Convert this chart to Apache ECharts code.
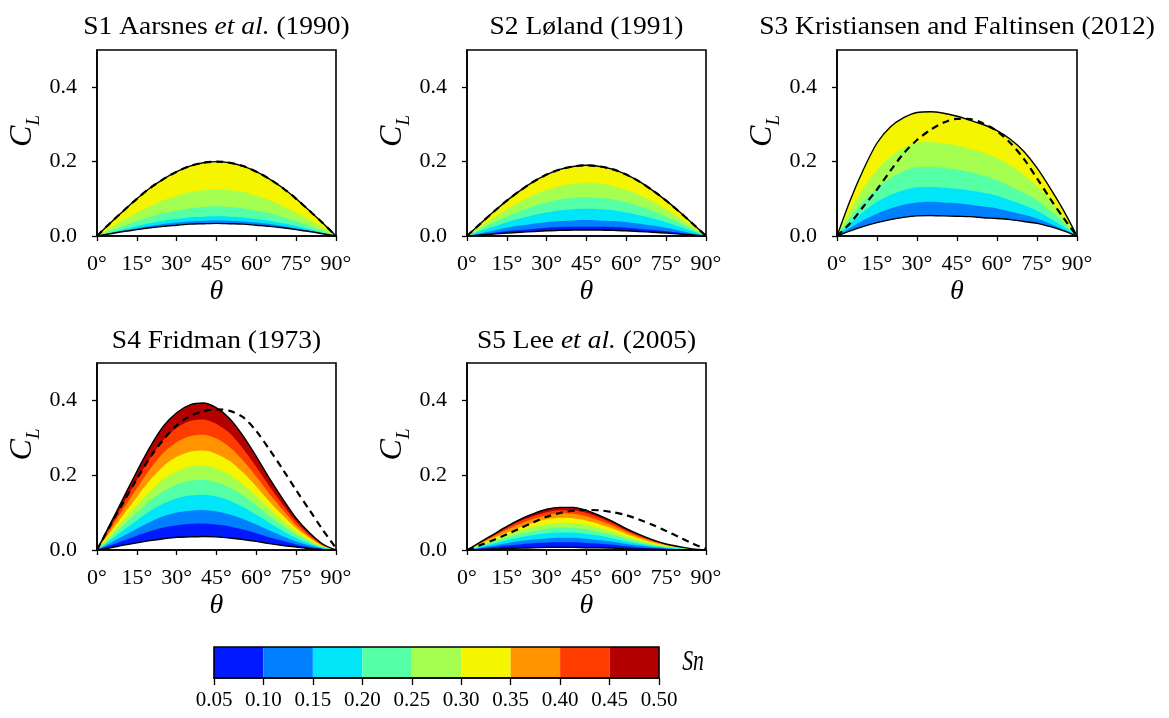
<!DOCTYPE html>
<html>
<head>
<meta charset="utf-8">
<script src="https://cdn.jsdelivr.net/npm/echarts@6/dist/echarts.min.js"></script>
<style>
  html, body { margin: 0; padding: 0; background: #fff; }
  #chart { width: 1169px; height: 718px; }
</style>
</head>
<body>
<div id="chart"></div>
<script>
const FONT = "'Liberation Serif', 'Times New Roman', serif";

// Incidence angle grid (deg) shared by every curve
const theta = [0, 5, 10, 15, 20, 25, 30, 35, 40, 45, 50, 55, 60, 65, 70, 75, 80, 85, 90];
const thetaTicks = [0, 15, 30, 45, 60, 75, 90];
const clTicks = [0, 0.2, 0.4];

// Sn colour classes: 0.05-wide bins from 0.05 to 0.50
const snEdges = [0.05, 0.10, 0.15, 0.20, 0.25, 0.30, 0.35, 0.40, 0.45, 0.50];
const snColors = ['#0019ff', '#0080ff', '#00e5f8', '#55ffa5', '#a5ff50',
                  '#f5f500', '#ff9400', '#ff3c00', '#b30000'];

// S1 Aarsnes et al. (1990): lower Sn bound, upper edge of each Sn band, reference (dashed)
const s1Low = [0, 0.006, 0.012, 0.017, 0.022, 0.026, 0.029, 0.032, 0.033, 0.034, 0.033, 0.032, 0.029, 0.026, 0.022, 0.017, 0.012, 0.006, 0];
const s1Levels = [0.15, 0.20, 0.25, 0.30, 0.35];
const s1Edges = [
  [0, 0.007, 0.014, 0.021, 0.027, 0.032, 0.036, 0.039, 0.041, 0.042, 0.041, 0.039, 0.036, 0.032, 0.027, 0.021, 0.014, 0.007, 0],
  [0, 0.009, 0.018, 0.027, 0.034, 0.041, 0.046, 0.050, 0.052, 0.053, 0.052, 0.050, 0.046, 0.041, 0.034, 0.027, 0.018, 0.009, 0],
  [0, 0.014, 0.027, 0.040, 0.051, 0.061, 0.068, 0.074, 0.078, 0.079, 0.078, 0.074, 0.068, 0.061, 0.051, 0.040, 0.027, 0.014, 0],
  [0, 0.022, 0.043, 0.063, 0.080, 0.096, 0.108, 0.118, 0.123, 0.125, 0.123, 0.118, 0.108, 0.096, 0.080, 0.063, 0.043, 0.022, 0],
  [0, 0.035, 0.068, 0.100, 0.129, 0.153, 0.173, 0.188, 0.197, 0.200, 0.197, 0.188, 0.173, 0.153, 0.129, 0.100, 0.068, 0.035, 0]
];
const s1Ref = [0, 0.035, 0.068, 0.100, 0.129, 0.153, 0.173, 0.188, 0.197, 0.200, 0.197, 0.188, 0.173, 0.153, 0.129, 0.100, 0.068, 0.035, 0];

// S2 Løland (1991)
const s2Low = [0, 0.003, 0.005, 0.008, 0.010, 0.012, 0.014, 0.015, 0.016, 0.016, 0.016, 0.015, 0.014, 0.012, 0.010, 0.008, 0.005, 0.003, 0];
const s2Levels = [0.10, 0.15, 0.20, 0.25, 0.30, 0.35];
const s2Edges = [
  [0, 0.004, 0.009, 0.013, 0.016, 0.019, 0.022, 0.024, 0.025, 0.025, 0.025, 0.024, 0.022, 0.019, 0.016, 0.013, 0.009, 0.004, 0],
  [0, 0.007, 0.015, 0.022, 0.028, 0.033, 0.037, 0.040, 0.042, 0.043, 0.042, 0.040, 0.037, 0.033, 0.028, 0.022, 0.015, 0.007, 0],
  [0, 0.013, 0.025, 0.037, 0.047, 0.056, 0.063, 0.069, 0.072, 0.073, 0.072, 0.069, 0.063, 0.056, 0.047, 0.037, 0.025, 0.013, 0],
  [0, 0.018, 0.036, 0.052, 0.067, 0.080, 0.090, 0.098, 0.102, 0.104, 0.102, 0.098, 0.090, 0.080, 0.067, 0.052, 0.036, 0.018, 0],
  [0, 0.025, 0.049, 0.072, 0.092, 0.110, 0.124, 0.134, 0.141, 0.143, 0.141, 0.134, 0.124, 0.110, 0.092, 0.072, 0.049, 0.025, 0],
  [0, 0.033, 0.065, 0.095, 0.122, 0.146, 0.165, 0.179, 0.187, 0.190, 0.187, 0.179, 0.165, 0.146, 0.122, 0.095, 0.065, 0.033, 0]
];
const s2Ref = [0, 0.033, 0.065, 0.095, 0.122, 0.146, 0.165, 0.179, 0.187, 0.190, 0.187, 0.179, 0.165, 0.146, 0.122, 0.095, 0.065, 0.033, 0];

// S3 Kristiansen and Faltinsen (2012)
const s3Low = [0, 0.014, 0.026, 0.036, 0.044, 0.050, 0.054, 0.055, 0.054, 0.053, 0.052, 0.049, 0.047, 0.044, 0.039, 0.034, 0.025, 0.014, 0];
const s3Levels = [0.15, 0.20, 0.25, 0.30, 0.35];
const s3Edges = [
  [0, 0.022, 0.043, 0.060, 0.074, 0.084, 0.090, 0.092, 0.090, 0.088, 0.084, 0.079, 0.074, 0.066, 0.057, 0.047, 0.033, 0.017, 0],
  [0, 0.035, 0.066, 0.092, 0.110, 0.123, 0.131, 0.132, 0.130, 0.127, 0.122, 0.116, 0.108, 0.096, 0.083, 0.068, 0.047, 0.025, 0],
  [0, 0.050, 0.094, 0.128, 0.155, 0.174, 0.185, 0.186, 0.183, 0.179, 0.172, 0.162, 0.150, 0.134, 0.116, 0.096, 0.068, 0.036, 0],
  [0, 0.070, 0.130, 0.178, 0.213, 0.237, 0.252, 0.253, 0.249, 0.243, 0.234, 0.224, 0.210, 0.190, 0.164, 0.135, 0.098, 0.050, 0],
  [0, 0.097, 0.180, 0.250, 0.293, 0.318, 0.332, 0.334, 0.330, 0.322, 0.311, 0.299, 0.283, 0.260, 0.228, 0.183, 0.128, 0.068, 0]
];
const s3Ref = [0, 0.035, 0.080, 0.125, 0.175, 0.222, 0.258, 0.285, 0.305, 0.315, 0.314, 0.302, 0.282, 0.250, 0.208, 0.155, 0.100, 0.048, 0];

// S4 Fridman (1973)
const s4Low = [0, 0.006, 0.013, 0.019, 0.025, 0.030, 0.034, 0.035, 0.036, 0.035, 0.032, 0.028, 0.023, 0.017, 0.012, 0.008, 0.004, 0.001, 0];
const s4Levels = [0.10, 0.15, 0.20, 0.25, 0.30, 0.35, 0.40, 0.45, 0.50];
const s4Edges = [
  [0, 0.013, 0.025, 0.038, 0.050, 0.060, 0.066, 0.070, 0.071, 0.068, 0.063, 0.055, 0.045, 0.034, 0.024, 0.015, 0.008, 0.003, 0],
  [0, 0.019, 0.038, 0.057, 0.075, 0.090, 0.100, 0.105, 0.107, 0.103, 0.095, 0.083, 0.068, 0.052, 0.037, 0.023, 0.013, 0.004, 0],
  [0, 0.026, 0.053, 0.079, 0.104, 0.124, 0.138, 0.146, 0.148, 0.143, 0.132, 0.115, 0.094, 0.072, 0.051, 0.032, 0.017, 0.006, 0],
  [0, 0.033, 0.067, 0.100, 0.132, 0.158, 0.175, 0.185, 0.188, 0.181, 0.167, 0.146, 0.119, 0.091, 0.065, 0.041, 0.022, 0.008, 0],
  [0, 0.040, 0.080, 0.120, 0.158, 0.190, 0.210, 0.223, 0.226, 0.218, 0.201, 0.175, 0.144, 0.110, 0.078, 0.049, 0.027, 0.009, 0],
  [0, 0.048, 0.095, 0.142, 0.187, 0.224, 0.249, 0.263, 0.266, 0.257, 0.238, 0.207, 0.170, 0.129, 0.092, 0.058, 0.032, 0.011, 0],
  [0, 0.055, 0.110, 0.165, 0.216, 0.260, 0.288, 0.304, 0.308, 0.298, 0.275, 0.239, 0.196, 0.150, 0.107, 0.067, 0.036, 0.012, 0],
  [0, 0.062, 0.125, 0.187, 0.245, 0.294, 0.326, 0.345, 0.349, 0.337, 0.312, 0.271, 0.222, 0.170, 0.121, 0.076, 0.041, 0.014, 0],
  [0, 0.070, 0.140, 0.210, 0.276, 0.331, 0.367, 0.388, 0.393, 0.380, 0.351, 0.305, 0.250, 0.191, 0.136, 0.085, 0.046, 0.016, 0]
];
const s4Ref = [0, 0.066, 0.128, 0.190, 0.248, 0.295, 0.333, 0.358, 0.371, 0.376, 0.372, 0.355, 0.318, 0.268, 0.215, 0.160, 0.107, 0.054, 0.005];

// S5 Lee et al. (2005)
const s5Low = [0, 0.001, 0.003, 0.004, 0.005, 0.006, 0.007, 0.007, 0.007, 0.006, 0.006, 0.005, 0.003, 0.002, 0.002, 0.001, 0.001, 0, 0];
const s5Levels = [0.10, 0.15, 0.20, 0.25, 0.30, 0.35, 0.40, 0.45, 0.50];
const s5Edges = [
  [0, 0.004, 0.008, 0.012, 0.015, 0.018, 0.020, 0.021, 0.021, 0.019, 0.017, 0.014, 0.010, 0.007, 0.005, 0.003, 0.002, 0.001, 0],
  [0, 0.006, 0.012, 0.018, 0.024, 0.028, 0.031, 0.033, 0.033, 0.030, 0.026, 0.022, 0.016, 0.012, 0.008, 0.005, 0.002, 0.001, 0],
  [0, 0.009, 0.017, 0.026, 0.034, 0.040, 0.045, 0.047, 0.047, 0.043, 0.038, 0.031, 0.023, 0.017, 0.011, 0.007, 0.004, 0.001, 0],
  [0, 0.011, 0.022, 0.033, 0.043, 0.051, 0.057, 0.060, 0.059, 0.055, 0.048, 0.040, 0.030, 0.021, 0.014, 0.008, 0.005, 0.002, 0],
  [0, 0.014, 0.027, 0.040, 0.052, 0.062, 0.069, 0.073, 0.072, 0.067, 0.058, 0.048, 0.036, 0.026, 0.017, 0.010, 0.005, 0.002, 0],
  [0, 0.016, 0.032, 0.047, 0.061, 0.073, 0.082, 0.086, 0.085, 0.079, 0.069, 0.057, 0.043, 0.031, 0.020, 0.012, 0.006, 0.002, 0],
  [0, 0.018, 0.036, 0.054, 0.070, 0.083, 0.093, 0.098, 0.097, 0.090, 0.078, 0.065, 0.049, 0.035, 0.023, 0.014, 0.007, 0.003, 0],
  [0, 0.020, 0.039, 0.059, 0.077, 0.090, 0.101, 0.106, 0.106, 0.099, 0.086, 0.071, 0.053, 0.038, 0.025, 0.015, 0.008, 0.003, 0],
  [0, 0.021, 0.042, 0.063, 0.082, 0.097, 0.109, 0.114, 0.114, 0.106, 0.092, 0.076, 0.057, 0.041, 0.027, 0.016, 0.009, 0.003, 0]
];
const s5Ref = [0, 0.013, 0.027, 0.042, 0.058, 0.074, 0.089, 0.099, 0.105, 0.107, 0.106, 0.101, 0.093, 0.081, 0.067, 0.051, 0.034, 0.017, 0.003];

// Panel layout: title pieces ([text, italic?]), plot box [left, top, width, height], title centre
const panels = [
  { title: [['S1 Aarsnes ', 0], ['et al.', 1], [' (1990)', 0]], low: s1Low, levels: s1Levels, edges: s1Edges, ref: s1Ref, box: [97, 50, 239, 186], tc: [216.5, 27] },
  { title: [['S2 Løland (1991)', 0]], low: s2Low, levels: s2Levels, edges: s2Edges, ref: s2Ref, box: [467, 50, 239, 186], tc: [586.5, 27] },
  { title: [['S3 Kristiansen and Faltinsen (2012)', 0]], low: s3Low, levels: s3Levels, edges: s3Edges, ref: s3Ref, box: [837, 50, 240, 186], tc: [957, 27] },
  { title: [['S4 Fridman (1973)', 0]], low: s4Low, levels: s4Levels, edges: s4Edges, ref: s4Ref, box: [97, 363, 239, 187], tc: [216.5, 341] },
  { title: [['S5 Lee ', 0], ['et al.', 1], [' (2005)', 0]], low: s5Low, levels: s5Levels, edges: s5Edges, ref: s5Ref, box: [467, 363, 239, 187], tc: [586.5, 341] }
];

const pts = arr => theta.map((t, j) => [t, arr[j]]);
const binOf = level => Math.round(level / 0.05) - 2;
const SMOOTH = 0.3;

const grids = [], xAxes = [], yAxes = [], series = [], graphics = [];

panels.forEach((p, i) => {
  const [l, t, w, h] = p.box;
  grids.push({ left: l, top: t, width: w, height: h, show: true, borderColor: '#000', borderWidth: 1.6,
               backgroundColor: 'transparent', z: 3, outerBoundsMode: 'none' });
  xAxes.push({
    gridIndex: i, type: 'value', min: 0, max: 90, interval: 15, z: 4,
    axisLine: { show: true, onZero: false, lineStyle: { color: '#000', width: 1.6 } },
    axisTick: { show: true, inside: false, length: 5, customValues: thetaTicks, lineStyle: { color: '#000', width: 1.3 } },
    axisLabel: { customValues: thetaTicks, formatter: v => v + '°', fontFamily: FONT, fontSize: 22, color: '#000', margin: 17 },
    splitLine: { show: false },
    name: 'θ', nameLocation: 'middle', nameGap: 42, nameMoveOverlap: false,
    nameTextStyle: { fontFamily: FONT, fontStyle: 'italic', fontSize: 28, color: '#000' }
  });
  yAxes.push({
    gridIndex: i, type: 'value', min: 0, max: 0.5, z: 4,
    axisLine: { show: true, onZero: false, lineStyle: { color: '#000', width: 1.6 } },
    axisTick: { show: true, inside: false, length: 5, customValues: clTicks, lineStyle: { color: '#000', width: 1.3 } },
    axisLabel: { customValues: clTicks, formatter: v => v.toFixed(1), fontFamily: FONT, fontSize: 22, color: '#000', margin: 20 },
    splitLine: { show: false },
    name: '{c|C}{l|L}', nameLocation: 'middle', nameRotate: 90, nameGap: 58, nameMoveOverlap: false,
    nameTextStyle: {
      padding: [0, 0, 0, 24],
      rich: {
        c: { fontFamily: FONT, fontStyle: 'italic', fontSize: 32, lineHeight: 32, color: '#000', verticalAlign: 'top' },
        l: { fontFamily: FONT, fontStyle: 'italic', fontSize: 19, lineHeight: 19, color: '#000', verticalAlign: 'top', padding: [17, 0, 0, 0] }
      }
    }
  });

  const common = { type: 'line', xAxisIndex: i, yAxisIndex: i, smooth: SMOOTH, symbol: 'none', silent: true, animation: false };
  // colour bands: widest first, each filled down to CL = 0
  for (let k = p.edges.length - 1; k >= 0; k--) {
    series.push(Object.assign({}, common, {
      data: pts(p.edges[k]), z: 2,
      lineStyle: { width: 0, opacity: 0 },
      areaStyle: { color: snColors[binOf(p.levels[k])], opacity: 1 }
    }));
  }
  // region below the smallest Sn stays blank
  series.push(Object.assign({}, common, {
    data: pts(p.low), z: 2, lineStyle: { width: 0, opacity: 0 }, areaStyle: { color: '#fff', opacity: 1 }
  }));
  // envelope lines
  series.push(Object.assign({}, common, {
    data: pts(p.edges[p.edges.length - 1]), z: 3, lineStyle: { color: '#000', width: 1.4 }
  }));
  series.push(Object.assign({}, common, {
    data: pts(p.low), z: 3, lineStyle: { color: '#000', width: 1.4 }
  }));
  // reference curve
  series.push(Object.assign({}, common, {
    data: pts(p.ref), z: 3, lineStyle: { color: '#000', width: 2.2, type: [7, 5] }
  }));

  // panel title
  const rich = {
    n: { fontFamily: FONT, fontSize: 25, color: '#000' },
    i: { fontFamily: FONT, fontSize: 25, fontStyle: 'italic', color: '#000' }
  };
  graphics.push({
    type: 'text', x: p.tc[0], y: p.tc[1], scaleX: 1.1, silent: true,
    style: {
      text: p.title.map(([s, it]) => '{' + (it ? 'i' : 'n') + '|' + s + '}').join(''),
      rich: rich, align: 'center', verticalAlign: 'middle'
    }
  });
});

// colour bar for Sn
const cb = panels.length;
grids.push({ left: 214, top: 647, width: 445, height: 31, show: true, borderColor: '#000', borderWidth: 1.6,
             backgroundColor: 'transparent', z: 3, outerBoundsMode: 'none' });
xAxes.push({
  gridIndex: cb, type: 'value', min: 0.05, max: 0.5, interval: 0.05, z: 4,
  axisLine: { show: true, onZero: false, lineStyle: { color: '#000', width: 1.6 } },
  axisTick: { show: true, inside: false, length: 7, lineStyle: { color: '#000', width: 1.3 } },
  axisLabel: { formatter: v => v.toFixed(2), fontFamily: FONT, fontSize: 21, color: '#000', margin: 12 },
  splitLine: { show: false }
});
yAxes.push({ gridIndex: cb, type: 'value', min: 0, max: 1, show: false });
series.push({
  type: 'custom', xAxisIndex: cb, yAxisIndex: cb, silent: true, animation: false,
  data: snColors.map((c, i) => [snEdges[i], snEdges[i + 1], i]),
  renderItem: (params, api) => {
    const a = api.coord([api.value(0), 1]);
    const b = api.coord([api.value(1), 0]);
    return { type: 'rect', shape: { x: a[0], y: a[1], width: b[0] - a[0], height: b[1] - a[1] },
             style: { fill: snColors[api.value(2)] } };
  }
});
graphics.push({
  type: 'text', x: 693, y: 662, scaleX: 0.75, silent: true,
  style: { text: 'Sn', fontFamily: FONT, fontStyle: 'italic', fontSize: 29, fill: '#000', align: 'center', verticalAlign: 'middle' }
});

const chart = echarts.init(document.getElementById('chart'), null, { renderer: 'canvas' });
chart.setOption({
  animation: false,
  backgroundColor: '#fff',
  grid: grids,
  xAxis: xAxes,
  yAxis: yAxes,
  series: series,
  graphic: graphics
});
</script>
</body>
</html>
